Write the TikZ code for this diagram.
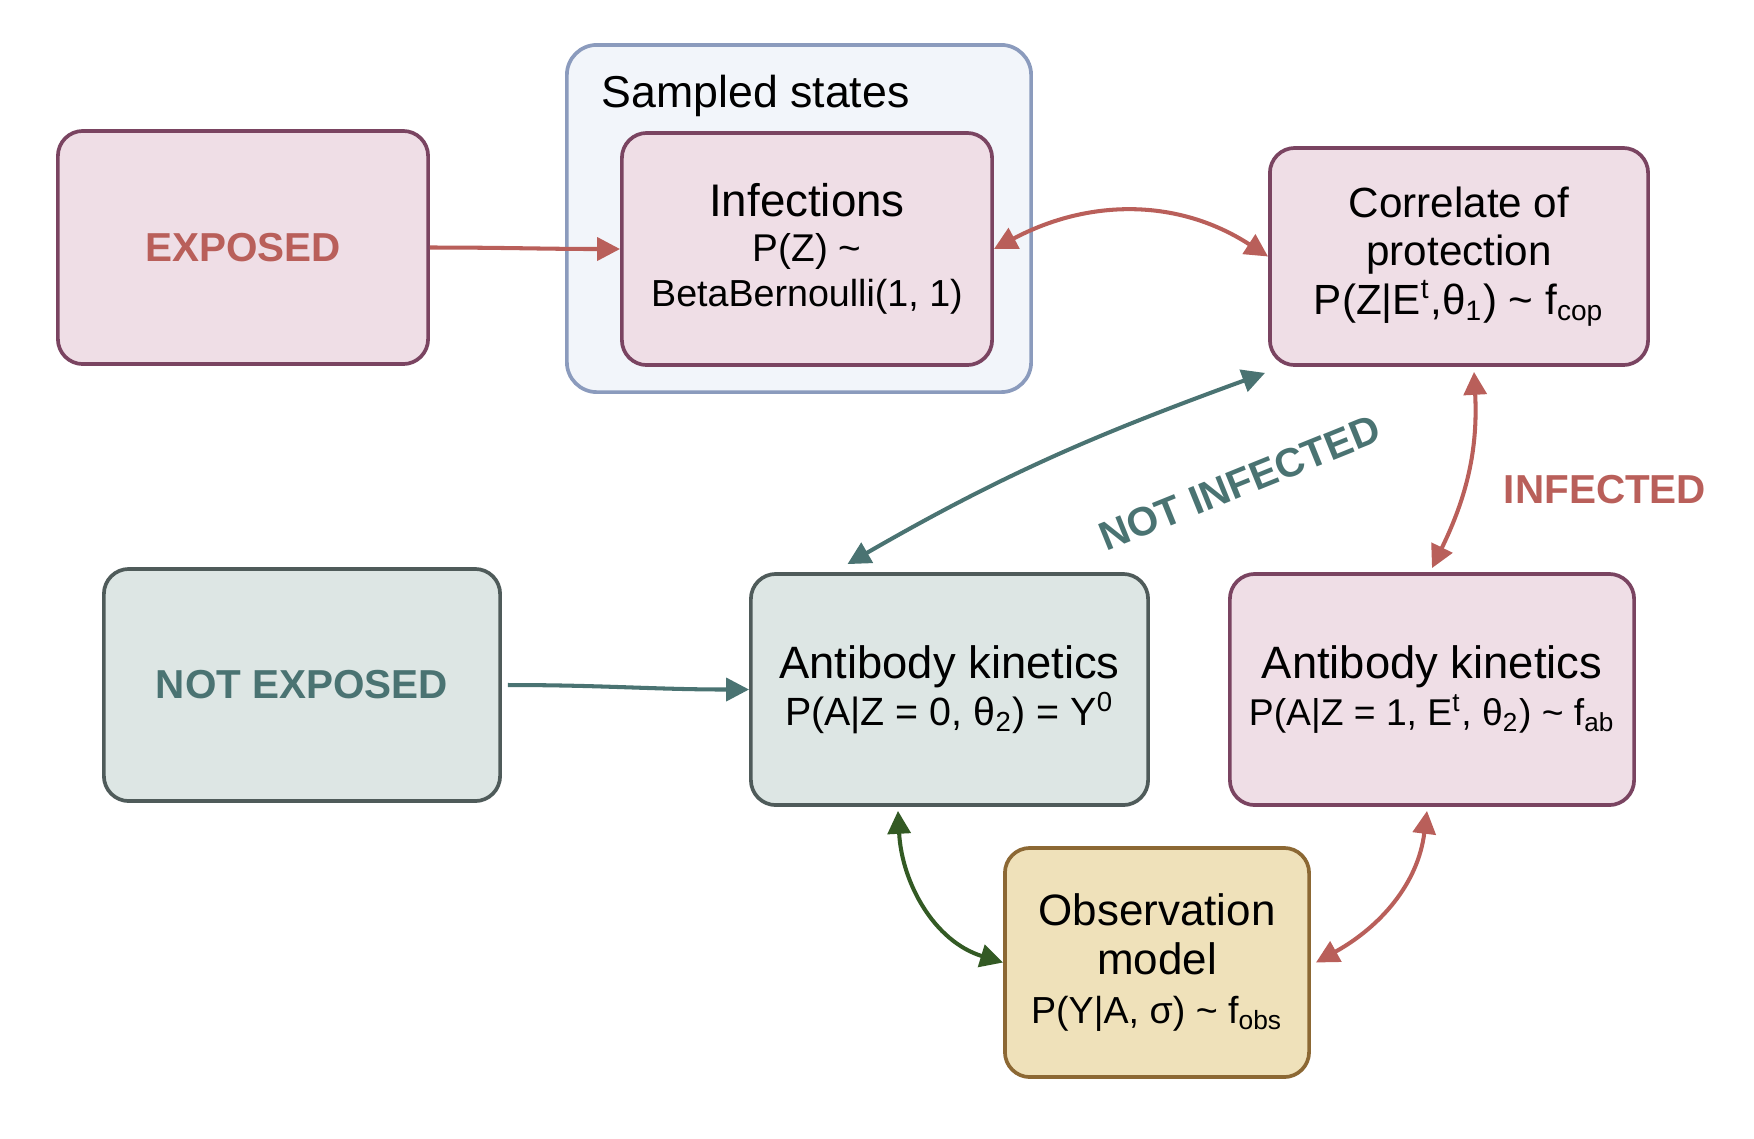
\documentclass[tikz,border=0pt]{standalone}
\usepackage{fontspec}
\setmainfont{Liberation Sans}
\usetikzlibrary{arrows.meta}
\newcommand\fsz[1]{\fontsize{#1}{#1}\selectfont}
\definecolor{pinkfill}{HTML}{EFDEE6}
\definecolor{plum}{HTML}{7A4461}
\definecolor{redc}{HTML}{B95F5A}
\definecolor{bluefill}{HTML}{F2F5FA}
\definecolor{blueline}{HTML}{8B9BBD}
\definecolor{tealfill}{HTML}{DDE6E4}
\definecolor{tealline}{HTML}{4F5B5A}
\definecolor{tealc}{HTML}{4A7372}
\definecolor{obsfill}{HTML}{EFE1BA}
\definecolor{obsline}{HTML}{8C6834}
\definecolor{greenc}{HTML}{335A24}
\tikzset{
  box/.style={rounded corners=0.25cm, line width=1.05pt, inner sep=0pt, align=center},
  pinkbox/.style={box, fill=pinkfill, draw=plum},
  tealbox/.style={box, fill=tealfill, draw=tealline},
  boldlabel/.style={font=\bfseries\fsz{11.5}},
  >={Triangle[length=6.5pt,width=6.5pt]},
  conn/.style={line width=1.15pt},
  redarr/.style={conn, draw=redc},
  tealarr/.style={conn, draw=tealc},
  greenarr/.style={conn, draw=greenc}
}
\begin{document}
\begin{tikzpicture}[x=0.01cm, y=0.01cm]
\useasboundingbox (0,0) rectangle (1754,-1138);
% container
\node[draw=blueline, fill=bluefill, rounded corners=0.3cm, line width=1.05pt,
      minimum width=4.64cm, minimum height=3.47cm, inner sep=0pt] (samp) at (799,-218.5) {};
\node[anchor=base west, inner sep=0pt, font=\fsz{12.7}] (samplabel) at (601,-107) {Sampled states};
% boxes
\node[pinkbox, boldlabel, text=redc, minimum width=3.70cm, minimum height=2.33cm] (expo) at (243,-247.5) {EXPOSED};
\node[pinkbox, minimum width=3.70cm, minimum height=2.32cm, font=\fontsize{13}{12.8}\selectfont] (inf) at (807,-249)
  {Infections\\{\fsz{11}P(Z) \textasciitilde}\\{\fsz{10.7}BetaBernoulli(1, 1)}};
\node[pinkbox, minimum width=3.78cm, minimum height=2.17cm, font=\fontsize{12}{13.8}\selectfont] (cor) at (1459,-256.5)
  {Correlate of\\protection\\P(Z|E\textsuperscript{t},θ\textsubscript{1}) \textasciitilde{} f\textsubscript{cop}};
\node[tealbox, boldlabel, text=tealc, minimum width=3.96cm, minimum height=2.32cm] (noexp) at (302,-685) {NOT EXPOSED};
\node[tealbox, minimum width=3.97cm, minimum height=2.31cm, font=\fontsize{12.9}{13.4}\selectfont] (akT) at (949.5,-689.5)
  {Antibody kinetics\\{\fsz{11.2}P(A|Z = 0, θ\textsubscript{2}) = Y\textsuperscript{0}}};
\node[pinkbox, minimum width=4.04cm, minimum height=2.31cm, font=\fontsize{12.9}{13.4}\selectfont] (akP) at (1432,-689.5)
  {Antibody kinetics\\{\fsz{10.6}P(A|Z = 1, E\textsuperscript{t}, θ\textsubscript{2}) \textasciitilde{} f\textsubscript{ab}}};
\node[box, fill=obsfill, draw=obsline, minimum width=3.04cm, minimum height=2.29cm, font=\fontsize{12.5}{13.9}\selectfont] (obs) at (1157,-962.5)
  {Observation\\model\\{\fsz{10.7}P(Y|A, σ) \textasciitilde{} f\textsubscript{obs}}};
% labels
\node[boldlabel, text=tealc, rotate=22] (notinf) at (1240,-483) {NOT INFECTED};
\node[boldlabel, text=redc] (infl) at (1605,-490) {INFECTED};
% connectors
\draw[redarr, ->] (expo.east) to[out=0,in=180] (inf.west);
\draw[redarr, <->] (inf.east) to[out=28,in=147] (cor.west);
\draw[tealarr, <->] ([xshift=-1.02cm,yshift=0.08cm]akT.north) to[out=30,in=200] ([xshift=-0.03cm,yshift=-0.06cm]cor.south west);
\draw[redarr, <->] ([xshift=0.15cm,yshift=-0.05cm]cor.south) to[out=-87,in=64] ([yshift=0.04cm]akP.north);
\draw[tealarr, ->] ([xshift=0.06cm]noexp.east) to[out=0,in=180] (akT.west);
\draw[greenarr, <->] ([xshift=-0.515cm,yshift=-0.04cm]akT.south) to[out=-87,in=163] (obs.west);
\draw[redarr, <->] ([xshift=-0.05cm,yshift=-0.04cm]akP.south) to[out=-97,in=29] ([xshift=0.05cm]obs.east);
\end{tikzpicture}
\end{document}
